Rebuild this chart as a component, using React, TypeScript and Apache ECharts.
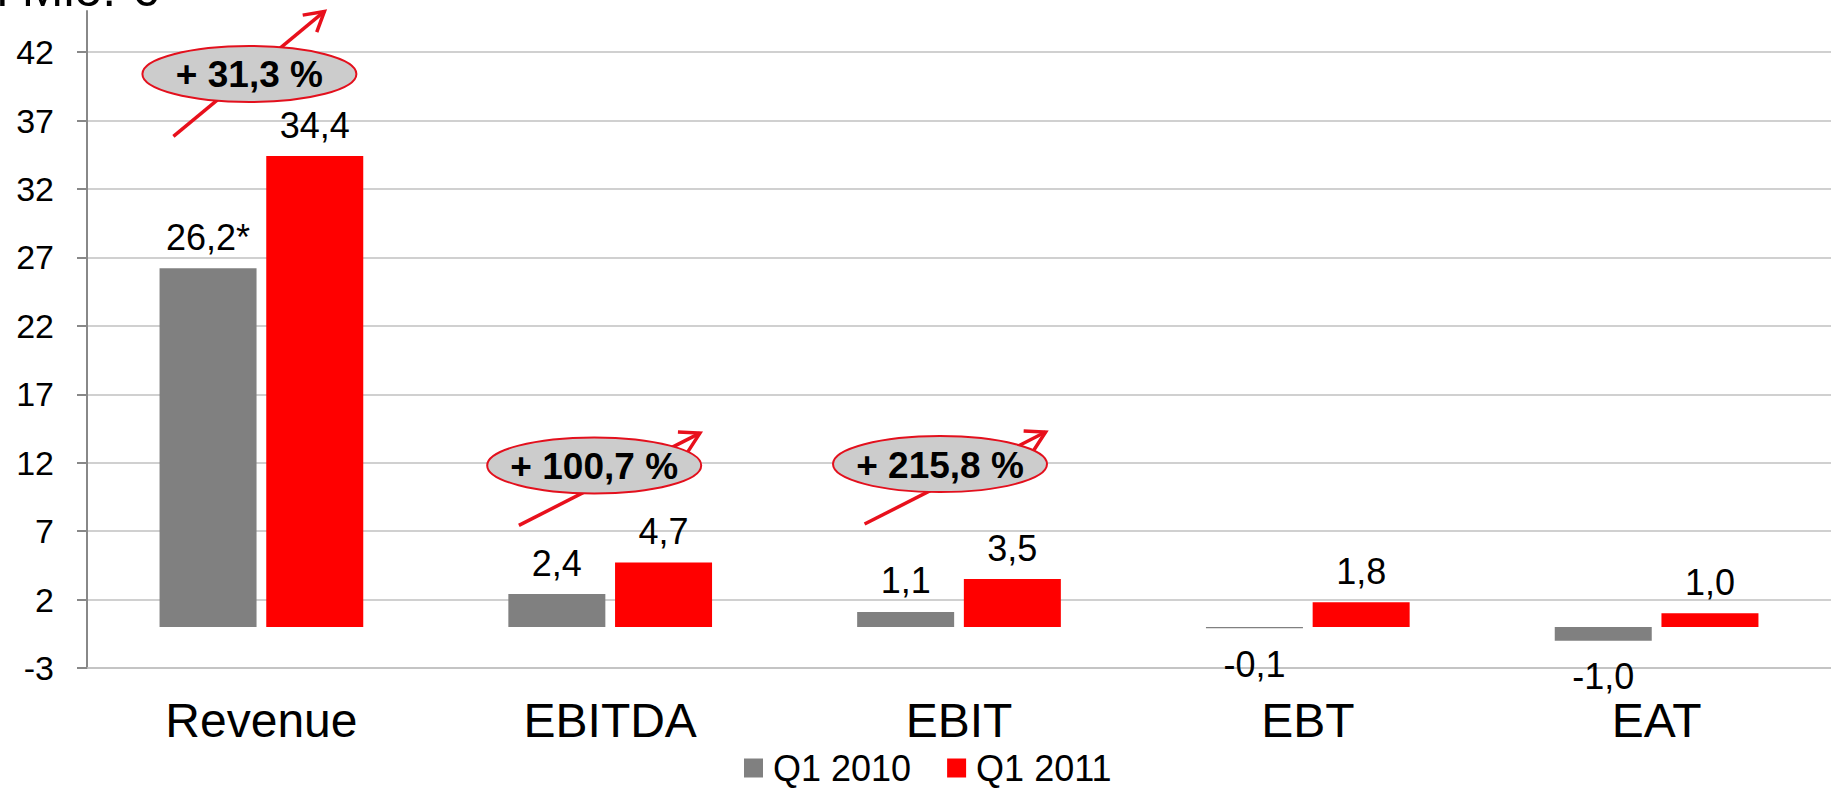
import React, { useEffect, useRef } from "react";
import * as echarts from "echarts";

const categories = ["Revenue", "EBITDA", "EBIT", "EBT", "EAT"];
const seriesNames = ["Q1 2010", "Q1 2011"];
const q1_2010 = [26.2, 2.4, 1.1, -0.1, -1.0];
const q1_2011 = [34.4, 4.7, 3.5, 1.8, 1.0];
const q1_2010Notes = ["*", "", "", "", ""];
const q1_2011Notes = ["", "", "", "", ""];
const yTicks = [-3, 2, 7, 12, 17, 22, 27, 32, 37, 42];
const growthCategories = ["Revenue", "EBITDA", "EBIT"];
const growthLabels = ["+ 31,3 %", "+ 100,7 %", "+ 215,8 %"];
const unitLabel = "in Mio. €";

const FONT = "'Liberation Sans', Arial, Helvetica, sans-serif";
const GRAY = "#808080";
const RED = "#ff0000";
const ARROW_RED = "#e8101c";

// annotation layout (pixel offsets relative to the category centre / anchor value)
const ANNOTATION_LAYOUT = [
  { dx: -12, anchor: 40.4, rx: 107, ry: 28, arrow: [-76, 62.5, 75, -62.5] },
  { dx: -16, anchor: 11.8, rx: 107, ry: 28, arrow: [-75.3, 60, 105.7, -32.3] },
  { dx: -19, anchor: 11.9, rx: 107, ry: 28, arrow: [-75.4, 60, 105.6, -32] },
];

const fmt = (v: number) => v.toFixed(1).replace(".", ",");

function barData(values: number[]) {
  return values.map((v) => ({
    value: v,
    label: {
      position: v < 0 ? "bottom" : "top",
      distance: v < 0 ? 18 : 13,
    },
  }));
}

export default function App() {
  const ref = useRef<HTMLDivElement>(null);

  useEffect(() => {
    document.body.style.margin = "0";
    document.body.style.overflow = "hidden";
    if (!ref.current) return;
    const chart = echarts.init(ref.current, null, { renderer: "svg" });

    const labelCommon = {
      show: true,
      fontSize: 36,
      color: "#000",
      fontFamily: FONT,
    };

    chart.setOption({
      animation: false,
      backgroundColor: "#ffffff",
      textStyle: { fontFamily: FONT },
      grid: { left: 87, top: 11, width: 1749, height: 657, containLabel: false },
      legend: {
        data: seriesNames,
        left: 739,
        top: 745,
        itemWidth: 19,
        itemHeight: 19,
        itemGap: 36,
        icon: "rect",
        selectedMode: false,
        textStyle: { fontSize: 36, color: "#000", fontFamily: FONT, padding: [0, 0, 0, 5] },
      },
      xAxis: {
        type: "category",
        data: categories,
        axisLine: { onZero: false, lineStyle: { color: "#c0c0c0", width: 1.5 } },
        axisTick: { show: false },
        axisLabel: { fontSize: 48, color: "#000", margin: 28, fontFamily: FONT },
        splitLine: { show: false },
      },
      yAxis: {
        type: "value",
        min: -3,
        max: 45,
        axisLine: { show: true, lineStyle: { color: "#888888", width: 2 } },
        axisTick: {
          show: true,
          length: 10,
          customValues: yTicks,
          lineStyle: { color: "#888888", width: 2 },
        },
        axisLabel: {
          fontSize: 34,
          color: "#000",
          margin: 33,
          fontFamily: FONT,
          customValues: yTicks,
        },
        splitLine: { show: true, lineStyle: { color: "#c0c0c0", width: 1.5 } },
      },
      series: [
        {
          name: seriesNames[0],
          type: "bar",
          data: barData(q1_2010),
          barWidth: 97,
          barGap: "10%",
          itemStyle: { color: GRAY },
          label: {
            ...labelCommon,
            formatter: (p: any) => fmt(p.value) + q1_2010Notes[p.dataIndex],
          },
        },
        {
          name: seriesNames[1],
          type: "bar",
          data: barData(q1_2011),
          barWidth: 97,
          barGap: "10%",
          itemStyle: { color: RED },
          label: {
            ...labelCommon,
            formatter: (p: any) => fmt(p.value) + q1_2011Notes[p.dataIndex],
          },
        },
      ],
    });

    const graphics: any[] = [
      {
        type: "text",
        left: -31,
        top: -36,
        z: 100,
        style: {
          text: unitLabel,
          fontSize: 50,
          fontFamily: FONT,
          fill: "#000",
        },
      },
    ];

    growthCategories.forEach((cat, i) => {
      const lay = ANNOTATION_LAYOUT[i];
      const pt = chart.convertToPixel({ gridIndex: 0 }, [cat, lay.anchor]) as number[];
      const cx = pt[0] + lay.dx;
      const cy = pt[1];
      const [ax1, ay1, ax2, ay2] = lay.arrow;
      const x1 = cx + ax1, y1 = cy + ay1, x2 = cx + ax2, y2 = cy + ay2;
      const len = Math.hypot(x2 - x1, y2 - y1);
      const bx = (x1 - x2) / len, by = (y1 - y2) / len;
      const a = Math.PI / 6;
      const armLen = 22;
      const rot = (ang: number) => [
        x2 + armLen * (Math.cos(ang) * bx - Math.sin(ang) * by),
        y2 + armLen * (Math.sin(ang) * bx + Math.cos(ang) * by),
      ];
      graphics.push({
        type: "line",
        z: 100,
        shape: { x1, y1, x2, y2 },
        style: { stroke: ARROW_RED, lineWidth: 3.5, lineCap: "butt" },
      });
      graphics.push({
        type: "polyline",
        z: 100,
        shape: { points: [rot(a), [x2, y2], rot(-a)] },
        style: { stroke: ARROW_RED, lineWidth: 3.5, fill: null, lineJoin: "miter" },
      });
      graphics.push({
        type: "ellipse",
        z: 101,
        shape: { cx, cy, rx: lay.rx, ry: lay.ry },
        style: { fill: "#cccccc", stroke: "#e3101d", lineWidth: 2 },
      });
      graphics.push({
        type: "text",
        z: 102,
        x: cx,
        y: cy + 1,
        style: {
          text: growthLabels[i],
          fontSize: 37,
          fontWeight: "bold",
          fontFamily: FONT,
          fill: "#000",
          align: "center",
          verticalAlign: "middle",
        },
      });
    });

    chart.setOption({ graphic: graphics });

    return () => chart.dispose();
  }, []);

  return <div ref={ref} style={{ width: 1831, height: 789 }} />;
}
